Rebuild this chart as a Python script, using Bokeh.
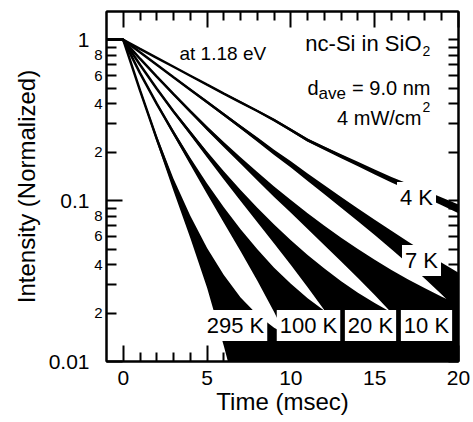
import math
import numpy as np
from bokeh.plotting import figure
from bokeh.models import (LinearAxis, LogAxis, FixedTicker, CustomJSTickFormatter,
                          Label)
from bokeh.embed import file_html
from bokeh.resources import INLINE

FONT = "Liberation Sans"

# ---------------- data ----------------
TIME_MS = [-1, 0, 1, 2, 3, 4, 5, 6, 7, 8, 9, 10, 11, 12, 13, 14, 15, 16, 17, 18, 19, 20]

INT_4K = [1.0, 1.0, 0.878, 0.773, 0.680, 0.598, 0.526, 0.463, 0.409, 0.361, 0.317, 0.275,
          0.238, 0.212, 0.189, 0.169, 0.151, 0.135, 0.122, 0.110, 0.099, 0.089]
INT_7K = [1.0, 1.0, 0.836, 0.700, 0.585, 0.490, 0.410, 0.343, 0.287, 0.240, 0.200, 0.168,
          0.140, 0.117, 0.098, 0.082, 0.0687, 0.0574, 0.0481, 0.0402, 0.0336, 0.0281]
INT_10K = [1.0, 1.0, 0.763, 0.591, 0.459, 0.359, 0.282, 0.223, 0.178, 0.142, 0.114, 0.0925,
           0.0751, 0.0614, 0.0503, 0.0415, 0.0344, 0.0286, 0.0238, 0.0200, 0.0168, 0.0142]
INT_20K = [1.0, 1.0, 0.70, 0.496, 0.358, 0.264, 0.194, 0.144, 0.108, 0.082, 0.0627, 0.0483,
           0.0375, 0.0293, 0.0231, 0.0183, 0.0146, 0.0117, 0.0094, 0.0075, 0.006, 0.0048]
INT_100K = [1.0, 1.0, 0.621, 0.40, 0.264, 0.176, 0.119, 0.082, 0.0574, 0.0408, 0.0293, 0.0214,
            0.0157, 0.0117, 0.0087, 0.0065, 0.0049, 0.0037, 0.0028, 0.0021, 0.0016, 0.0012]
INT_295K = [1.0, 1.0, 0.485, 0.242, 0.126, 0.0695, 0.0397, 0.0235, 0.014, 0.0085, 0.0052, 0.0032,
            0.002, 0.0012, 0.0008, 0.0005, 0.0003, 0.0002, 0.00012, 0.00008, 0.00005, 0.00003]

# noise amplitude of each trace (linear intensity units)
NOISE_4K, NOISE_7K, NOISE_10K = 0.0055, 0.0075, 0.0085
NOISE_20K, NOISE_100K, NOISE_295K = 0.0085, 0.009, 0.011

CURVE_LABELS = ["4 K", "7 K", "10 K", "20 K", "100 K", "295 K"]

X_MAJOR = [0, 5, 10, 15, 20]
X_MINOR = [1, 2, 3, 4, 6, 7, 8, 9, 11, 12, 13, 14, 16, 17, 18, 19]
Y_MAJOR = [0.01, 0.1, 1]
Y_MINOR = [0.02, 0.03, 0.04, 0.05, 0.06, 0.07, 0.08, 0.09,
           0.2, 0.3, 0.4, 0.5, 0.6, 0.7, 0.8, 0.9]
Y_MINOR_LABELED = [0.02, 0.04, 0.06, 0.08, 0.2, 0.4, 0.6, 0.8]

# ---------------- figure ----------------
X0, X1 = -1, 20
Y0, Y1 = 0.01, 1.5
FL, FT, FW, FH = 106, 11, 352, 350  # frame position on the canvas (px)

p = figure(frame_width=FW, frame_height=FH, x_range=(X0, X1), y_range=(Y0, Y1),
           y_axis_type="log", output_backend="svg", toolbar_location=None,
           min_border_left=FL, min_border_right=14, min_border_top=FT, min_border_bottom=60,
           background_fill_color="white", border_fill_color="white")
p.grid.visible = False
p.outline_line_color = "black"
p.outline_line_width = 2


def X(px):
    return X0 + (px - FL) * (X1 - X0) / FW


def Y(py):
    l1, l0 = math.log10(Y1), math.log10(Y0)
    return 10 ** (l1 - (py - FT) * (l1 - l0) / FH)


# ---------------- traces ----------------
traces = [(INT_4K, NOISE_4K), (INT_7K, NOISE_7K), (INT_10K, NOISE_10K),
          (INT_20K, NOISE_20K), (INT_100K, NOISE_100K), (INT_295K, NOISE_295K)]
for vals, a in traces:
    v = np.array(vals)
    upper = v + a
    lower = np.maximum(v - a, 0.005)
    p.varea(x=TIME_MS, y1=lower, y2=upper, fill_color="black")
    p.line(x=TIME_MS, y=vals, line_color="black", line_width=2.5)

# ---------------- axes ----------------
def style(ax, major_len, minor_len=0, label_size="21px"):
    ax.axis_line_color = "black"
    ax.axis_line_width = 2
    ax.major_tick_in = major_len
    ax.major_tick_out = 0
    ax.minor_tick_in = minor_len
    ax.minor_tick_out = 0
    ax.major_tick_line_color = "black"
    ax.major_tick_line_width = 2
    ax.minor_tick_line_color = "black"
    ax.minor_tick_line_width = 2
    ax.major_label_text_font = FONT
    ax.major_label_text_font_size = label_size
    ax.major_label_text_color = "black"
    ax.axis_label_text_font = FONT
    ax.axis_label_text_font_size = "24px"
    ax.axis_label_text_font_style = "normal"
    ax.axis_label_text_color = "black"


blank = CustomJSTickFormatter(code="return '';")
xt = FixedTicker(ticks=X_MAJOR, minor_ticks=X_MINOR)

# bottom
xb = p.xaxis[0]
xb.ticker = xt
style(xb, 16, 9)
xb.major_label_standoff = 9
xb.axis_label = "Time (msec)"
xb.axis_label_standoff = 0

# top (ticks only)
xa = LinearAxis(ticker=xt)
style(xa, 16, 9, "1px")
xa.formatter = blank
xa.major_label_standoff = 0
p.add_layout(xa, "above")

# left, innermost: long decade ticks only
yl = p.yaxis[0]
yl.ticker = FixedTicker(ticks=Y_MAJOR)
style(yl, 16, 0, "1px")
yl.formatter = blank
yl.major_label_standoff = 0

# left, second: short ticks at 2..9 with small labels 2, 4, 6, 8
ym = LogAxis(ticker=FixedTicker(ticks=Y_MINOR))
style(ym, 10, 0, "15px")
ym.axis_line_color = None
labeled = ",".join(repr(v) for v in Y_MINOR_LABELED)
ym.formatter = CustomJSTickFormatter(code=(
    "const keep = [" + labeled + "];"
    "if (!keep.some(k => Math.abs(k - tick) < 1e-9)) return '';"
    "const e = Math.floor(Math.log10(tick) + 1e-9);"
    "return String(Math.round(tick / Math.pow(10, e)));"))
ym.major_label_standoff = 4
p.add_layout(ym, "left")

# left, outer: decade labels and axis title
yd = LogAxis(ticker=FixedTicker(ticks=Y_MAJOR))
style(yd, 0, 0, "21px")
yd.axis_line_color = None
yd.major_tick_line_color = None
yd.formatter = CustomJSTickFormatter(
    code="return tick >= 1 ? tick.toFixed(0) : String(Number(tick.toPrecision(1)));")
yd.major_label_standoff = 2
yd.axis_label = "Intensity (Normalized)"
yd.axis_label_standoff = 6
p.add_layout(yd, "left")

# right (ticks only)
yr = LogAxis(ticker=FixedTicker(ticks=Y_MAJOR + Y_MINOR))
style(yr, 10, 0, "1px")
yr.formatter = blank
yr.major_label_standoff = 0
p.add_layout(yr, "right")

# ---------------- annotations ----------------
def txt(px, py, s, size, align="left", baseline="alphabetic"):
    p.add_layout(Label(x=X(px), y=Y(py), text=s, text_font=FONT, text_font_size=size,
                       text_align=align, text_baseline=baseline, text_color="black"))


txt(179, 53, "at 1.18 eV", "19px")
txt(421, 43, "nc-Si in SiO", "22px", align="right")
txt(422, 50, "2", "14px")
txt(307, 87, "d", "20px")
txt(318, 93, "ave", "17px")
txt(430, 87, "= 9.0 nm", "20px", align="right")
txt(421, 117, "4 mW/cm", "20px", align="right")
txt(422, 106, "2", "14px")

label_px = {"4 K": (416, 197), "7 K": (421, 260), "10 K": (426, 325),
            "20 K": (370, 325), "100 K": (308, 325), "295 K": (235, 325)}
for name in CURVE_LABELS:
    px, py = label_px[name]
    p.add_layout(Label(x=X(px), y=Y(py), text=name, text_font=FONT, text_font_size="22px",
                       text_align="center", text_baseline="middle", text_color="black",
                       background_fill_color="white", padding=3))

open("out.html", "w").write(file_html(p, INLINE))
